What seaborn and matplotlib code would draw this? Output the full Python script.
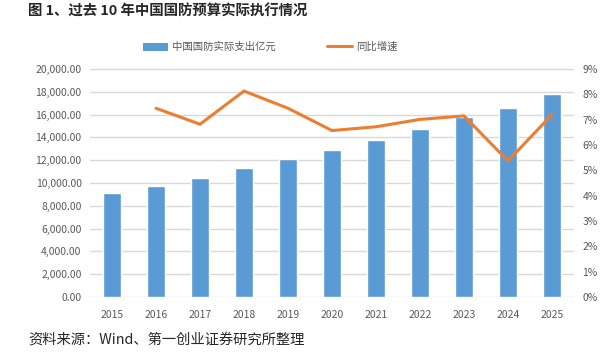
import numpy as np
import pandas as pd
import matplotlib
matplotlib.use("Agg")
import matplotlib.pyplot as plt
from matplotlib.ticker import FuncFormatter
from matplotlib.patches import Patch
from matplotlib.lines import Line2D
import seaborn as sns

years = ["2015", "2016", "2017", "2018", "2019", "2020", "2021", "2022", "2023", "2024", "2025"]
spend = [9090, 9740, 10420, 11280, 12110, 12900, 13770, 14720, 15770, 16610, 17820]
growth = [np.nan, 7.45, 6.82, 8.13, 7.45, 6.57, 6.72, 7.01, 7.15, 5.37, 7.2]

bar_name = "中国国防实际支出亿元"
line_name = "同比增速"
title = "图 1、过去 10 年中国国防预算实际执行情况"
source = "资料来源：Wind、第一创业证券研究所整理"

df = pd.DataFrame({"year": years, "spend": spend, "growth": growth})
df["pos"] = np.arange(len(df))

sns.set_theme(style="white")
plt.rcParams["font.family"] = ["Noto Sans CJK SC", "DejaVu Sans"]

blue = "#5b9bd5"
orange = "#ed7d31"
gray = "#595959"

fig = plt.figure(figsize=(6.04, 3.55), dpi=100)
ax = fig.add_axes([90 / 604, 58 / 355, 484 / 604, 239 / 355])

sns.barplot(data=df, x="year", y="spend", color=blue, width=0.4, saturation=1, ax=ax)
ax.set_ylim(0, 20000 * 239 / 228)
ax.set_yticks(np.arange(0, 20001, 2000))
ax.yaxis.set_major_formatter(FuncFormatter(lambda v, p: f"{v:,.2f}"))
ax.grid(axis="y", color="#d9d9d9", linewidth=1)
ax.set_axisbelow(True)
ax.set_xlim(-0.5, len(years) - 0.5)
ax.set_xlabel("")
ax.set_ylabel("")
ax.tick_params(axis="y", length=0, labelsize=7.5, colors=gray, pad=6)
ax.tick_params(axis="x", length=0, labelsize=7.5, colors=gray, pad=9)
for s in ax.spines.values():
    s.set_visible(False)

ax2 = ax.twinx()
sns.lineplot(data=df, x="pos", y="growth", color=orange, linewidth=2.2, ax=ax2)
ax2.set_ylim(0, 9 * 239 / 228)
ax2.set_yticks(np.arange(0, 10, 1))
ax2.yaxis.set_major_formatter(FuncFormatter(lambda v, p: f"{v:.0f}%"))
ax2.set_xlim(-0.5, len(years) - 0.5)
ax2.set_xlabel("")
ax2.set_ylabel("")
ax2.tick_params(axis="y", length=0, labelsize=7.5, colors=gray, pad=6)
for s in ax2.spines.values():
    s.set_visible(False)

handles = [Patch(facecolor=blue, edgecolor="none"), Line2D([], [], color=orange, linewidth=2.2)]
fig.legend(handles, [bar_name, line_name], loc="center", bbox_to_anchor=(270 / 604, 1 - 47 / 355),
           ncol=2, frameon=False, fontsize=7.5, labelcolor=gray, handlelength=2.4,
           handleheight=0.8, columnspacing=4.9, handletextpad=0.4)

fig.text(28 / 604, 1 - 12 / 355, title, fontsize=10.4, fontweight="bold", va="center", ha="left")
fig.text(28 / 604, 1 - 341 / 355, source, fontsize=10.3, va="center", ha="left")

fig.savefig("out.png", dpi=100)
